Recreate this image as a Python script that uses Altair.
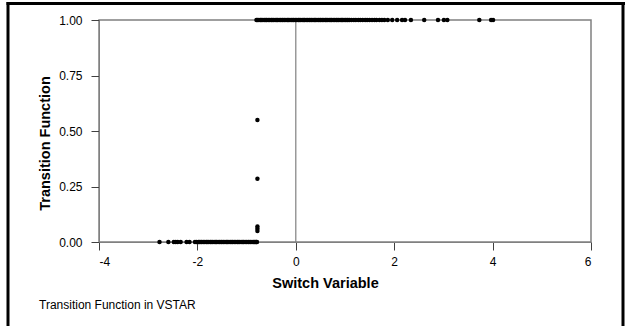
import altair as alt
import pandas as pd

# Points sitting at transition value 0
lower_x = [-2.77, -2.59, -2.48, -2.44, -2.40, -2.34, -2.22, -2.16, -2.05, -2.02,
           -1.98, -1.96, -1.93, -1.91, -1.88, -1.85, -1.82, -1.80, -1.77, -1.74,
           -1.72, -1.69, -1.66, -1.63, -1.61, -1.58, -1.55, -1.52, -1.50, -1.47,
           -1.44, -1.41, -1.39, -1.36, -1.33, -1.30, -1.28, -1.25, -1.22, -1.19,
           -1.17, -1.14, -1.11, -1.08, -1.06, -1.03, -1.00, -0.97, -0.95, -0.92,
           -0.89, -0.86, -0.84, -0.82, -0.80, -0.79]

# Points in the transition
mid_x = [-0.78, -0.78, -0.78, -0.78, -0.78]
mid_y = [0.55, 0.285, 0.07, 0.06, 0.05]

# Points sitting at transition value 1
upper_x = [-0.80, -0.78, -0.75, -0.72, -0.70, -0.67, -0.64, -0.61, -0.59, -0.56,
           -0.53, -0.50, -0.48, -0.45, -0.42, -0.39, -0.37, -0.34, -0.31, -0.28,
           -0.26, -0.23, -0.20, -0.17, -0.15, -0.12, -0.09, -0.06, -0.04, -0.01,
           0.02, 0.05, 0.07, 0.10, 0.13, 0.16, 0.18, 0.21, 0.24, 0.27,
           0.29, 0.32, 0.35, 0.38, 0.40, 0.43, 0.46, 0.49, 0.51, 0.54,
           0.57, 0.60, 0.62, 0.65, 0.68, 0.71, 0.73, 0.76, 0.79, 0.82,
           0.84, 0.87, 0.90, 0.93, 0.95, 0.98, 1.01, 1.04, 1.06, 1.09,
           1.13, 1.18, 1.22, 1.27, 1.31, 1.36, 1.41, 1.45, 1.50, 1.55,
           1.60, 1.64, 1.70, 1.75, 1.80, 1.87, 1.96, 2.06, 2.16, 2.22,
           2.34, 2.61, 2.89, 3.01, 3.08, 3.73, 3.97, 4.01]

x_ticks = [-4, -2, 0, 2, 4, 6]
y_ticks = [0.0, 0.25, 0.5, 0.75, 1.0]

df = pd.DataFrame({
    "x": lower_x + mid_x + upper_x,
    "y": [0.0] * len(lower_x) + mid_y + [1.0] * len(upper_x),
})

FONT = "Liberation Sans"
W, H = 492, 222

points = alt.Chart(df).mark_circle(size=20, color="black", opacity=1).encode(
    x=alt.X("x:Q", scale=alt.Scale(domain=[-4, 6], nice=False),
            axis=alt.Axis(values=x_ticks, title="Switch Variable", grid=False,
                          labelExpr="replace(datum.label, '\u2212', '-')",
                          tickSize=8, labelPadding=6,
                          titleX=226, titleY=41, titleAlign="center",
                          titleBaseline="middle",
                          labelFontSize=12, titleFontSize=14.5, labelFont=FONT,
                          titleFont=FONT, titleFontWeight="bold",
                          domainColor="#808080", tickColor="#404040",
                          labelColor="black", titleColor="black")),
    y=alt.Y("y:Q", scale=alt.Scale(domain=[0, 1], nice=False),
            axis=alt.Axis(values=y_ticks, format=".2f", title="Transition Function",
                          grid=False, tickSize=8, labelPadding=9,
                          titleX=-54, titleY=123, titleAngle=270,
                          titleAlign="center", titleBaseline="middle",
                          labelFontSize=12, titleFontSize=14.5, labelFont=FONT,
                          titleFont=FONT, titleFontWeight="bold",
                          domainColor="#808080", tickColor="#404040",
                          labelColor="black", titleColor="black")),
)

zero_line = alt.Chart().mark_rule(color="#808080", strokeWidth=1.2).encode(
    x=alt.datum(0)
)

footer = alt.Chart().mark_text(align="left", baseline="middle", font=FONT,
                               fontSize=12, color="black").encode(
    x=alt.value(-60), y=alt.value(285), text=alt.value("Transition Function in VSTAR")
)

frame_left = alt.Chart().mark_rule(color="black", strokeWidth=3).encode(
    x=alt.value(-91), y=alt.value(-18), y2=alt.value(320))
frame_top = alt.Chart().mark_rule(color="black", strokeWidth=3).encode(
    x=alt.value(-92.5), x2=alt.value(526), y=alt.value(-16.5))
frame_right = alt.Chart().mark_rule(color="black", strokeWidth=3).encode(
    x=alt.value(524), y=alt.value(-18), y2=alt.value(320))

chart = alt.layer(zero_line, points, footer, frame_left, frame_top, frame_right).properties(
    width=W, height=H,
    autosize=alt.AutoSizeParams(type="none"),
    padding={"left": 99, "top": 20, "right": 625 - 99 - W, "bottom": 326 - 20 - H},
    background="white",
).configure_view(stroke="#808080", strokeWidth=1.5)

chart.save("out.html", embed_options={"renderer": "svg", "actions": False})
